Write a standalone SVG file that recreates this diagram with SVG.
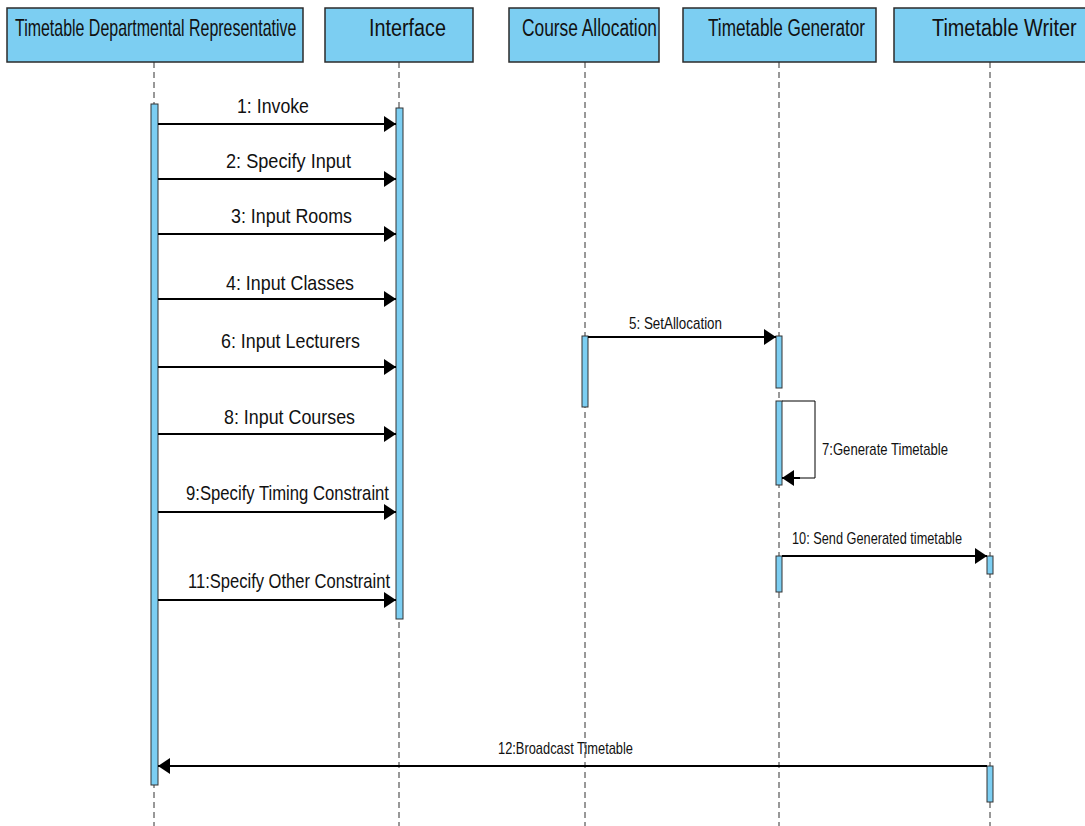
<svg xmlns="http://www.w3.org/2000/svg" width="1085" height="826" viewBox="0 0 1085 826">
  <style>
    .head { fill: #7ccef2; stroke: #2b2b2b; stroke-width: 1.5; }
    .head-text { font-family: "Liberation Sans", Arial, sans-serif; font-size: 23px; fill: #111; }
    .life { stroke: #333; stroke-width: 1; stroke-dasharray: 6 4; fill: none; }
    .act { fill: #7ccef2; stroke: #333; stroke-width: 1; }
    .msg { stroke: #000; stroke-width: 2; fill: none; }
    .loop { stroke: #000; stroke-width: 1; fill: none; }
    .lbl { font-family: "Liberation Sans", Arial, sans-serif; font-size: 21px; fill: #111; }
    .lbl-s { font-family: "Liberation Sans", Arial, sans-serif; font-size: 17px; fill: #111; }
  </style>
  <defs>
    <marker id="arrow" viewBox="0 0 12 16" refX="12" refY="8" markerWidth="12" markerHeight="16" markerUnits="userSpaceOnUse" orient="auto">
      <path d="M0,0 L12,8 L0,16 Z" fill="#000"/>
    </marker>
  </defs>
  <rect width="1085" height="826" fill="#fff"/>

  <!-- lifelines -->
  <g id="lifelines">
    <line class="life" x1="154" y1="62" x2="154" y2="826"/>
    <line class="life" x1="399" y1="62" x2="399" y2="826"/>
    <line class="life" x1="585" y1="62" x2="585" y2="826"/>
    <line class="life" x1="779" y1="62" x2="779" y2="826"/>
    <line class="life" x1="990" y1="62" x2="990" y2="826"/>
  </g>

  <g id="rep">
    <rect class="head" x="7" y="8" width="296" height="54"/>
    <text class="head-text" transform="translate(15,36) scale(0.694,1)">Timetable Departmental Representative</text>
    <rect class="act" x="151" y="104" width="7" height="681"/>
  </g>
  <g id="interface">
    <rect class="head" x="325" y="8" width="148" height="54"/>
    <text class="head-text" x="369" y="36" textLength="77" lengthAdjust="spacingAndGlyphs">Interface</text>
    <rect class="act" x="396" y="108" width="7" height="511"/>
  </g>
  <g id="course-allocation">
    <rect class="head" x="509" y="8" width="150" height="54"/>
    <text class="head-text" x="522" y="36" textLength="135" lengthAdjust="spacingAndGlyphs">Course Allocation</text>
    <rect class="act" x="582" y="336" width="6" height="71"/>
  </g>
  <g id="generator">
    <rect class="head" x="683" y="8" width="193" height="54"/>
    <text class="head-text" x="708" y="36" textLength="157" lengthAdjust="spacingAndGlyphs">Timetable Generator</text>
    <rect class="act" x="776" y="336" width="6" height="52"/>
    <rect class="act" x="776" y="401" width="6" height="84"/>
    <rect class="act" x="776" y="556" width="6" height="36"/>
  </g>
  <g id="writer">
    <rect class="head" x="894" y="8" width="200" height="54"/>
    <text class="head-text" transform="translate(932,36) scale(0.864,1)">Timetable Writer</text>
    <rect class="act" x="987" y="556" width="6" height="18"/>
    <rect class="act" x="987" y="766" width="6" height="36"/>
  </g>

  <!-- messages -->
  <g id="connectors">
    <line class="msg" x1="158" y1="124" x2="396" y2="124" marker-end="url(#arrow)"/>
    <text class="lbl" x="237" y="113" textLength="72" lengthAdjust="spacingAndGlyphs">1: Invoke</text>

    <line class="msg" x1="158" y1="179" x2="396" y2="179" marker-end="url(#arrow)"/>
    <text class="lbl" x="226" y="168" textLength="125" lengthAdjust="spacingAndGlyphs">2: Specify Input</text>

    <line class="msg" x1="158" y1="234" x2="396" y2="234" marker-end="url(#arrow)"/>
    <text class="lbl" x="231" y="223" textLength="121" lengthAdjust="spacingAndGlyphs">3: Input Rooms</text>

    <line class="msg" x1="158" y1="299" x2="396" y2="299" marker-end="url(#arrow)"/>
    <text class="lbl" x="226" y="290" textLength="128" lengthAdjust="spacingAndGlyphs">4: Input Classes</text>

    <line class="msg" x1="158" y1="367" x2="396" y2="367" marker-end="url(#arrow)"/>
    <text class="lbl" x="221" y="348" textLength="139" lengthAdjust="spacingAndGlyphs">6: Input Lecturers</text>

    <line class="msg" x1="158" y1="434" x2="396" y2="434" marker-end="url(#arrow)"/>
    <text class="lbl" x="224" y="424" textLength="131" lengthAdjust="spacingAndGlyphs">8: Input Courses</text>

    <line class="msg" x1="158" y1="512" x2="396" y2="512" marker-end="url(#arrow)"/>
    <text class="lbl" x="186" y="500" textLength="203" lengthAdjust="spacingAndGlyphs">9:Specify Timing Constraint</text>

    <line class="msg" x1="158" y1="600" x2="396" y2="600" marker-end="url(#arrow)"/>
    <text class="lbl" x="188" y="588" textLength="202" lengthAdjust="spacingAndGlyphs">11:Specify Other Constraint</text>

    <line class="msg" x1="588" y1="337" x2="776" y2="337" marker-end="url(#arrow)"/>
    <text class="lbl-s" x="629" y="329" textLength="93" lengthAdjust="spacingAndGlyphs">5: SetAllocation</text>

    <polyline class="loop" points="782,401 815,401 815,478 782,478"/>
    <line class="msg" x1="800" y1="478" x2="782" y2="478" marker-end="url(#arrow)"/>
    <text class="lbl-s" x="822" y="455" textLength="126" lengthAdjust="spacingAndGlyphs">7:Generate Timetable</text>

    <line class="msg" x1="782" y1="556" x2="987" y2="556" marker-end="url(#arrow)"/>
    <text class="lbl-s" x="792" y="544" textLength="170" lengthAdjust="spacingAndGlyphs">10: Send Generated timetable</text>

    <line class="msg" x1="987" y1="766" x2="158" y2="766" marker-end="url(#arrow)"/>
    <text class="lbl-s" x="498" y="754" textLength="135" lengthAdjust="spacingAndGlyphs">12:Broadcast Timetable</text>
  </g>
</svg>
